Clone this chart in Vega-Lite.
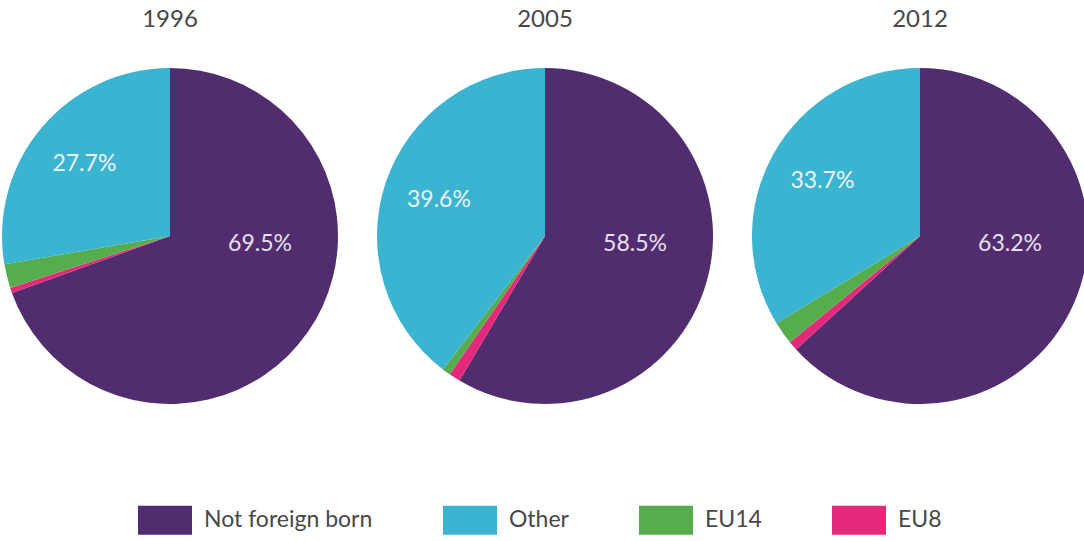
{
  "$schema": "https://vega.github.io/schema/vega-lite/v6.json",
  "padding": {"left": 2, "top": 8, "right": 0, "bottom": 0},
  "background": "white",
  "data": {"values": [
    {"year": "1996", "category": "Not foreign born", "rank": 1, "share": 0.695},
    {"year": "1996", "category": "EU8", "rank": 2, "share": 0.005},
    {"year": "1996", "category": "EU14", "rank": 3, "share": 0.023},
    {"year": "1996", "category": "Other", "rank": 4, "share": 0.277},
    {"year": "2005", "category": "Not foreign born", "rank": 1, "share": 0.585},
    {"year": "2005", "category": "EU8", "rank": 2, "share": 0.011},
    {"year": "2005", "category": "EU14", "rank": 3, "share": 0.008},
    {"year": "2005", "category": "Other", "rank": 4, "share": 0.396},
    {"year": "2012", "category": "Not foreign born", "rank": 1, "share": 0.632},
    {"year": "2012", "category": "EU8", "rank": 2, "share": 0.009},
    {"year": "2012", "category": "EU14", "rank": 3, "share": 0.022},
    {"year": "2012", "category": "Other", "rank": 4, "share": 0.337}
  ]},
  "facet": {
    "column": {
      "field": "year", "type": "ordinal",
      "header": {"title": null, "labelFont": "Lato", "labelFontSize": 24, "labelColor": "#484848", "labelPadding": 34}
    }
  },
  "spacing": 39,
  "spec": {
    "width": 334,
    "height": 340,
    "view": {"stroke": null},
    "layer": [
      {
        "mark": {"type": "arc", "outerRadius": 168, "stroke": null},
        "encoding": {
          "theta": {"field": "share", "type": "quantitative", "stack": true},
          "order": {"field": "rank", "type": "quantitative"},
          "color": {
            "field": "category", "type": "nominal",
            "scale": {"domain": ["Not foreign born", "Other", "EU14", "EU8"], "range": ["#512C6E", "#3AB4D0", "#57AD4D", "#E4287A"]},
            "legend": {
              "title": null, "orient": "none", "direction": "horizontal", "legendX": 135, "legendY": 427,
              "symbolType": "M-1,-0.54H1V0.54H-1Z", "symbolSize": 2916, "symbolStrokeWidth": 0, "symbolOpacity": 1,
              "labelFont": "Lato", "labelFontSize": 23, "labelColor": "#484848", "labelOffset": 12,
              "columnPadding": 70, "labelLimit": 300
            }
          }
        }
      },
      {
        "mark": {"type": "text", "radius": 112, "font": "Lato", "fontSize": 23, "fill": "#EEF4FA"},
        "encoding": {
          "theta": {"field": "share", "type": "quantitative", "stack": true},
          "order": {"field": "rank", "type": "quantitative"},
          "text": {
            "condition": {"test": "datum.category === 'Other'", "field": "share", "type": "quantitative", "format": ".1%"},
            "value": ""
          }
        }
      },
      {
        "transform": [{"filter": "datum.category === 'Not foreign born'"}],
        "mark": {"type": "text", "dx": 90, "dy": 8, "font": "Lato", "fontSize": 23, "fill": "#E8E0F0"},
        "encoding": {
          "text": {"field": "share", "type": "quantitative", "format": ".1%"}
        }
      }
    ]
  }
}
